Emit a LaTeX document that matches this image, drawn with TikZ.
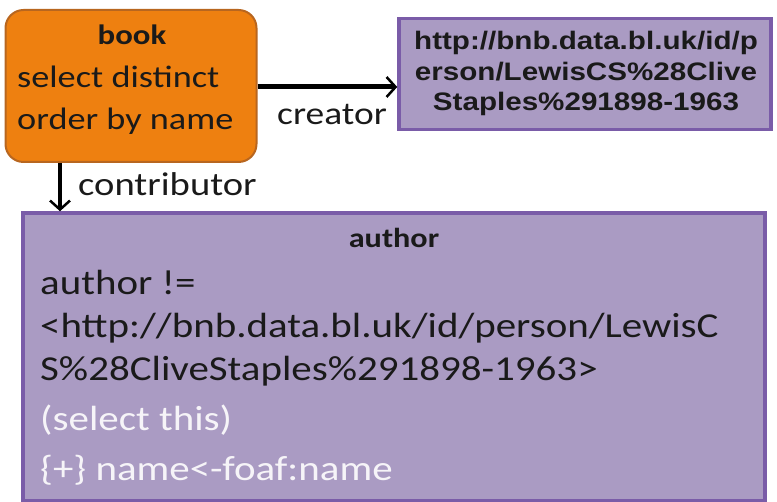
\documentclass[tikz,border=0pt]{standalone}
\usepackage{fontspec}
\usetikzlibrary{arrows.meta}
\setmainfont[FakeStretch=1.17]{Carlito}
\newfontfamily\urlfont[FakeStretch=1.17]{Liberation Sans}
\definecolor{bookfill}{HTML}{EE8010}
\definecolor{bookline}{HTML}{B8661F}
\definecolor{purfill}{HTML}{AA9BC3}
\definecolor{purline}{HTML}{7A5CA8}
\definecolor{txt}{HTML}{1A1A1A}
\definecolor{wtxt}{HTML}{F6F4F8}
\tikzset{
  bookbox/.style={draw=bookline, fill=bookfill, line width=2pt, rounded corners=18pt},
  purbox/.style={draw=purline, fill=purfill, line width=3.5pt},
  txtline/.style={anchor=base west, inner sep=0pt, text=txt},
  wline/.style={anchor=base west, inner sep=0pt, text=wtxt},
  conn/.style={draw=black, -{Straight Barb[length=9pt,width=20pt,line width=2.5pt]}},
}
\begin{document}
\begin{tikzpicture}[x=1pt,y=-1pt]
\useasboundingbox (0,0) rectangle (777,502);
% book
\node[bookbox, minimum width=251pt, minimum height=152pt, inner sep=0pt] (book) at (131,86) {};
\node[anchor=base, inner sep=0pt, text=txt, font=\bfseries\fontsize{28}{28}\selectfont] (bookt) at (132,45) {book};
\node[txtline, font=\fontsize{31}{31}\selectfont] (b1) at (17,88) {select distinct};
\node[txtline, font=\fontsize{31}{31}\selectfont] (b2) at (17,130) {order by name};
% creator
\node[purbox, minimum width=372pt, minimum height=111pt, inner sep=0pt] (cre) at (585,74) {};
\node[anchor=base, inner sep=0pt, text=txt, font=\urlfont\bfseries\fontsize{25.3}{25.3}\selectfont] (u1) at (586,50) {http://bnb.data.bl.uk/id/p};
\node[anchor=base, inner sep=0pt, text=txt, font=\urlfont\bfseries\fontsize{25.3}{25.3}\selectfont] (u2) at (586,81) {erson/LewisCS\%28Clive};
\node[anchor=base, inner sep=0pt, text=txt, font=\urlfont\bfseries\fontsize{25.3}{25.3}\selectfont] (u3) at (586,111) {Staples\%291898-1963};
% author
\node[purbox, minimum width=742pt, minimum height=288pt, inner sep=0pt] (auth) at (394,357) {};
\node[anchor=base, inner sep=0pt, text=txt, font=\bfseries\fontsize{27.5}{27.5}\selectfont] (at) at (394,248) {author};
\node[txtline, font=\fontsize{35}{35}\selectfont] (a1) at (40,295) {author !=};
\node[txtline, font=\fontsize{35}{35}\selectfont] (a2) at (40,338) {<http://bnb.data.bl.uk/id/person/LewisC};
\node[txtline, font=\fontsize{35}{35}\selectfont] (a3) at (40,381) {S\%28CliveStaples\%291898-1963>};
\node[wline, font=\fontsize{35}{35}\selectfont] (a4) at (40,431) {(select this)};
\node[wline, font=\fontsize{35}{35}\selectfont] (a5) at (40,481) {\{+\} name<-foaf:name};
% connectors
\draw[conn, line width=5pt] (book.east |- 0,87) -- (cre.west |- 0,87);
\node[anchor=base west, inner sep=0pt, text=txt, font=\fontsize{32}{32}\selectfont] (lc) at (277,125) {creator};
\draw[conn, line width=3.5pt] (book.south -| 60,0) -- (auth.north -| 60,0);
\node[anchor=base west, inner sep=0pt, text=txt, font=\fontsize{33}{33}\selectfont] (lk) at (78,196) {contributor};
\end{tikzpicture}
\end{document}
